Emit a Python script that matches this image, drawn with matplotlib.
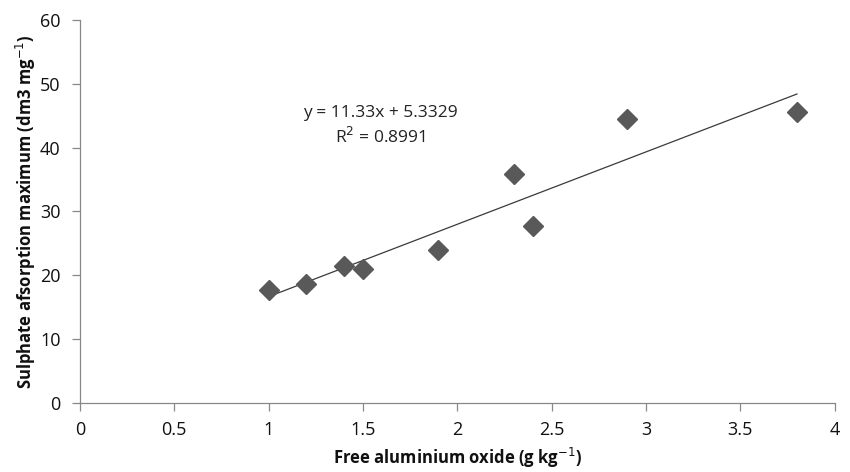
import numpy as np
import matplotlib.pyplot as plt

plt.rcParams['font.family'] = ['Open Sans', 'DejaVu Sans']

# free aluminium oxide (g/kg) vs sulphate adsorption maximum
oxide = [1.0, 1.2, 1.4, 1.5, 1.9, 2.3, 2.4, 2.9, 3.8]
sulphate = [17.7, 18.7, 21.5, 21.0, 23.9, 35.9, 27.7, 44.5, 45.5]
slope, intercept = 11.33, 5.3329
r2 = 0.8991

x_ticks = [0, 0.5, 1, 1.5, 2, 2.5, 3, 3.5, 4]
y_ticks = [0, 10, 20, 30, 40, 50, 60]


def main():
    fig = plt.figure(figsize=(8.5, 4.72), dpi=100)
    ax = fig.add_axes([0.094, 0.146, 0.888, 0.812])

    ax.plot(oxide, sulphate, linestyle='none', marker='D', markersize=10.5,
            color='#595959', zorder=3)

    xs = np.array([min(oxide), max(oxide)])
    ax.plot(xs, slope * xs + intercept, color='#3a3a3a', linewidth=0.9, zorder=2)

    ax.text(1.59, 45.4, 'y = %.2fx + %.4f' % (slope, intercept), ha='center',
            va='center', fontsize=12.5, color='#222222')
    ax.text(1.59, 41.6, 'R$^2$ = %.4f' % r2, ha='center', va='center',
            fontsize=12.5, color='#222222')

    ax.set_xlim(0, 4)
    ax.set_ylim(0, 60)
    ax.set_xticks(x_ticks)
    ax.set_xticklabels([('%g' % t) for t in x_ticks])
    ax.set_yticks(y_ticks)

    for s in ['top', 'right']:
        ax.spines[s].set_visible(False)
    for s in ['left', 'bottom']:
        ax.spines[s].set_color('#888888')
        ax.spines[s].set_linewidth(0.9)
    ax.tick_params(colors='#888888', labelcolor='#111111', labelsize=13,
                   length=6, width=0.9)
    ax.tick_params(axis='x', pad=7)
    ax.tick_params(axis='y', pad=8)

    ax.set_xlabel('Free aluminium oxide (g kg$^{-1}$)', fontsize=12,
                  fontweight='bold', color='#111111', labelpad=5)
    ax.set_ylabel('Sulphate afsorption maximum (dm3 mg$^{-1}$)', fontsize=12,
                  fontweight='bold', color='#111111', labelpad=1)

    fig.savefig('out.png', dpi=100)


if __name__ == '__main__':
    main()
